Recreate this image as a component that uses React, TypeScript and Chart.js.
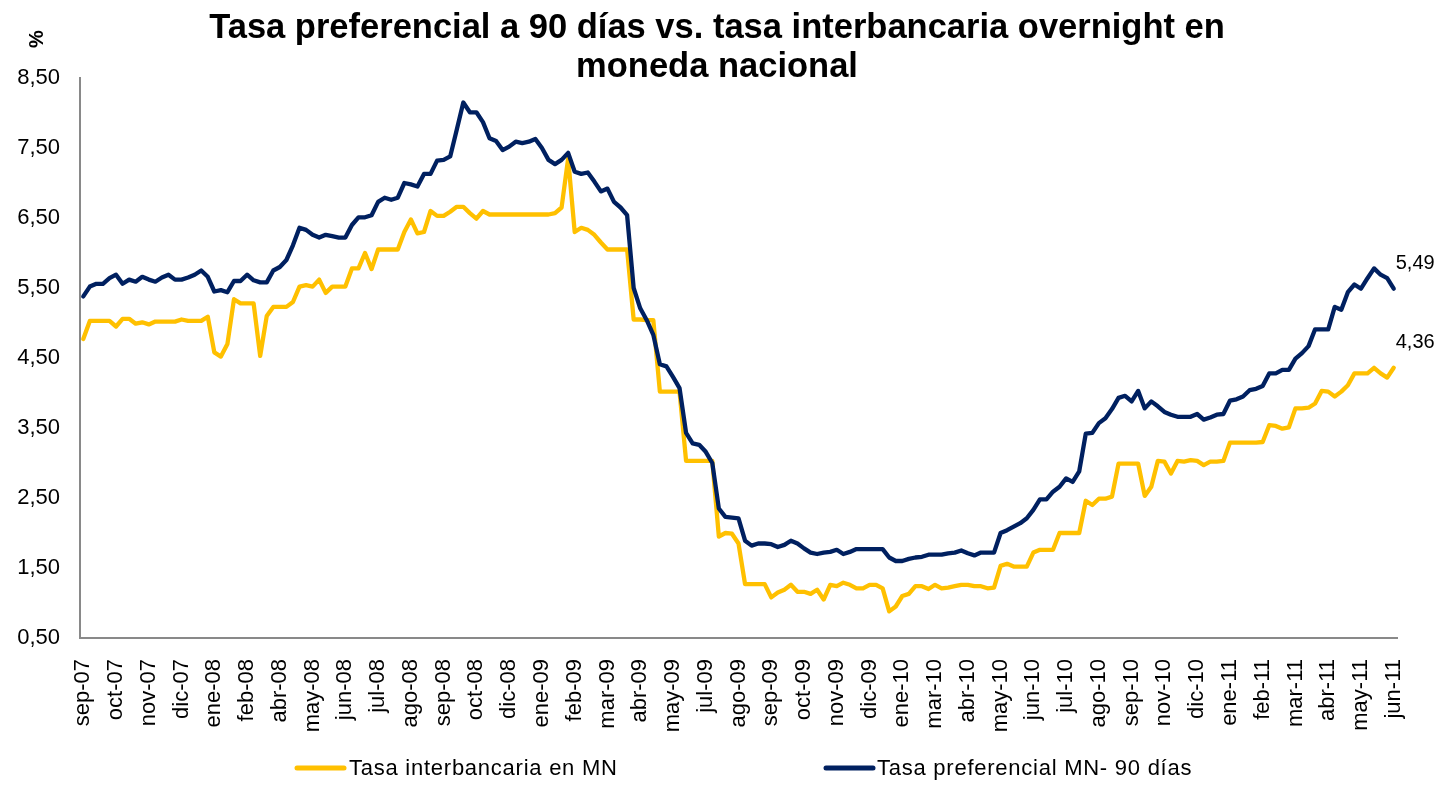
import React, { useEffect, useRef } from "react";
import { Chart, registerables } from "chart.js";

Chart.register(...registerables);

const FONT = "'Liberation Sans', Arial, Helvetica, sans-serif";

const titleLines = [
  "Tasa preferencial a 90 días vs. tasa interbancaria overnight en",
  "moneda nacional",
];
const yAxisTitle = "%";
const seriesNames = ["Tasa interbancaria en MN", "Tasa preferencial MN- 90 días"];
const seriesColors = ["#FFC000", "#002060"];

// one tick label every 5 weekly observations
const tickLabels = [
  "sep-07", "oct-07", "nov-07", "dic-07", "ene-08", "feb-08", "abr-08", "may-08", "jun-08", "jul-08",
  "ago-08", "sep-08", "oct-08", "dic-08", "ene-09", "feb-09", "mar-09", "abr-09", "may-09", "jul-09",
  "ago-09", "sep-09", "oct-09", "nov-09", "dic-09", "ene-10", "mar-10", "abr-10", "may-10", "jun-10",
  "jul-10", "ago-10", "sep-10", "nov-10", "dic-10", "ene-11", "feb-11", "mar-11", "abr-11", "may-11",
  "jun-11",
];
const LABEL_EVERY = 5;

const tasaInterbancaria = [
  4.77, 5.03, 5.03, 5.03, 5.03, 4.95, 5.06, 5.06, 4.99, 5.01,
  4.98, 5.02, 5.02, 5.02, 5.02, 5.05, 5.03, 5.03, 5.03, 5.09,
  4.58, 4.52, 4.70, 5.34, 5.28, 5.28, 5.28, 4.53, 5.10, 5.23,
  5.23, 5.23, 5.30, 5.52, 5.54, 5.52, 5.62, 5.43, 5.52, 5.52,
  5.52, 5.78, 5.78, 6.00, 5.77, 6.05, 6.05, 6.05, 6.05, 6.30,
  6.48, 6.28, 6.30, 6.60, 6.53, 6.53, 6.59, 6.66, 6.66, 6.57,
  6.49, 6.60, 6.55, 6.55, 6.55, 6.55, 6.55, 6.55, 6.55, 6.55,
  6.55, 6.55, 6.57, 6.65, 7.35, 6.30, 6.36, 6.33, 6.26, 6.15,
  6.05, 6.05, 6.05, 6.05, 5.05, 5.05, 5.04, 5.04, 4.02, 4.02,
  4.02, 4.02, 3.03, 3.03, 3.03, 3.03, 3.03, 1.95, 2.00, 1.99,
  1.85, 1.27, 1.27, 1.27, 1.27, 1.08, 1.15, 1.19, 1.26, 1.16,
  1.16, 1.13, 1.19, 1.05, 1.26, 1.24, 1.29, 1.26, 1.21, 1.21,
  1.26, 1.26, 1.21, 0.88, 0.95, 1.10, 1.13, 1.24, 1.24, 1.20,
  1.26, 1.21, 1.22, 1.24, 1.26, 1.26, 1.24, 1.24, 1.21, 1.22,
  1.53, 1.56, 1.52, 1.52, 1.52, 1.72, 1.76, 1.76, 1.76, 2.00,
  2.00, 2.00, 2.00, 2.46, 2.40, 2.49, 2.49, 2.52, 2.99, 2.99,
  2.99, 2.99, 2.53, 2.66, 3.03, 3.02, 2.85, 3.03, 3.02, 3.04,
  3.03, 2.97, 3.02, 3.02, 3.03, 3.29, 3.29, 3.29, 3.29, 3.29,
  3.30, 3.54, 3.53, 3.49, 3.51, 3.78, 3.78, 3.79, 3.85, 4.03,
  4.02, 3.95, 4.02, 4.11, 4.28, 4.28, 4.28, 4.36, 4.28, 4.22,
  4.36,
];

const tasaPreferencial = [
  5.38, 5.52, 5.56, 5.56, 5.64, 5.69, 5.56, 5.62, 5.59, 5.66,
  5.62, 5.59, 5.65, 5.69, 5.62, 5.62, 5.65, 5.69, 5.75, 5.66,
  5.45, 5.47, 5.44, 5.60, 5.60, 5.69, 5.61, 5.58, 5.58, 5.75,
  5.80, 5.90, 6.11, 6.36, 6.33, 6.26, 6.22, 6.26, 6.24, 6.22,
  6.22, 6.40, 6.51, 6.51, 6.54, 6.73, 6.79, 6.76, 6.79, 7.00,
  6.98, 6.95, 7.13, 7.13, 7.32, 7.33, 7.38, 7.76, 8.15, 8.01,
  8.01, 7.87, 7.64, 7.60, 7.47, 7.52, 7.59, 7.57, 7.59, 7.63,
  7.50, 7.33, 7.27, 7.33, 7.43, 7.16, 7.13, 7.15, 7.02, 6.88,
  6.92, 6.73, 6.65, 6.54, 5.50, 5.21, 5.04, 4.83, 4.41, 4.38,
  4.23, 4.07, 3.43, 3.28, 3.26, 3.16, 3.00, 2.35, 2.23, 2.22,
  2.21, 1.89, 1.82, 1.85, 1.85, 1.84, 1.80, 1.83, 1.89, 1.85,
  1.78, 1.72, 1.70, 1.72, 1.73, 1.76, 1.70, 1.73, 1.77, 1.77,
  1.77, 1.77, 1.77, 1.65, 1.60, 1.60, 1.63, 1.65, 1.66, 1.69,
  1.69, 1.69, 1.71, 1.72, 1.75, 1.71, 1.68, 1.72, 1.72, 1.72,
  2.00, 2.04, 2.09, 2.14, 2.21, 2.33, 2.48, 2.48, 2.59, 2.66,
  2.78, 2.73, 2.88, 3.42, 3.43, 3.57, 3.64, 3.77, 3.93, 3.96,
  3.88, 4.03, 3.78, 3.88, 3.81, 3.73, 3.69, 3.66, 3.66, 3.66,
  3.70, 3.62, 3.65, 3.69, 3.70, 3.89, 3.91, 3.95, 4.04, 4.06,
  4.10, 4.28, 4.28, 4.33, 4.33, 4.49, 4.57, 4.67, 4.91, 4.91,
  4.91, 5.23, 5.19, 5.44, 5.55, 5.49, 5.64, 5.78, 5.69, 5.64,
  5.49,
];

const Y_MIN = 0.5;
const Y_MAX = 8.5;
const Y_STEP = 1;

const categories = tasaPreferencial.map((_, i) =>
  i % LABEL_EVERY === 0 ? tickLabels[i / LABEL_EVERY] ?? "" : ""
);

const fmt = (v: number) => v.toFixed(2).replace(".", ",");

const overlayPlugin = {
  id: "overlay",
  afterDraw(chart: any) {
    const { ctx } = chart;
    const xs = chart.scales.x;
    const ys = chart.scales.y;
    ctx.save();
    ctx.fillStyle = "#000";

    // title
    ctx.font = `bold 34.5px ${FONT}`;
    ctx.textAlign = "center";
    ctx.textBaseline = "alphabetic";
    ctx.fillText(titleLines[0], 717, 38);
    ctx.fillText(titleLines[1], 717, 77);

    // rotated axis unit
    ctx.save();
    ctx.translate(37, 39);
    ctx.rotate(-Math.PI / 2);
    ctx.font = `bold 20px ${FONT}`;
    ctx.textAlign = "center";
    ctx.textBaseline = "middle";
    ctx.fillText(yAxisTitle, 0, 0);
    ctx.restore();

    // end-value labels
    ctx.font = `20px ${FONT}`;
    ctx.textAlign = "left";
    ctx.textBaseline = "middle";
    chart.data.datasets.forEach((ds: any) => {
      const last = ds.data.length - 1;
      const v = ds.data[last];
      const px = xs.getPixelForValue(last);
      const py = ys.getPixelForValue(v);
      ctx.fillText(fmt(v), px + 2, py - 25);
    });

    // legend
    const legendY = 768;
    const items = [
      { x0: 297, x1: 344, tx: 349 },
      { x0: 826, x1: 873, tx: 877 },
    ];
    ctx.font = `22px ${FONT}`;
    ctx.textBaseline = "middle";
    try {
      (ctx as any).letterSpacing = "0.75px";
    } catch (e) {
      /* ignore */
    }
    items.forEach((it, i) => {
      ctx.strokeStyle = seriesColors[i];
      ctx.lineWidth = 5;
      ctx.lineCap = "round";
      ctx.beginPath();
      ctx.moveTo(it.x0, legendY);
      ctx.lineTo(it.x1, legendY);
      ctx.stroke();
      ctx.fillStyle = "#000";
      ctx.fillText(seriesNames[i], it.tx, legendY + 1);
    });
    try {
      (ctx as any).letterSpacing = "0px";
    } catch (e) {
      /* ignore */
    }
    ctx.restore();
  },
};

export default function App() {
  const canvasRef = useRef<HTMLCanvasElement | null>(null);

  useEffect(() => {
    document.body.style.margin = "0";
    const canvas = canvasRef.current;
    if (!canvas) return;
    const chart = new Chart(canvas, {
      type: "line",
      data: {
        labels: categories,
        datasets: [
          {
            label: seriesNames[0],
            data: tasaInterbancaria,
            borderColor: seriesColors[0],
            backgroundColor: seriesColors[0],
            borderWidth: 4.3,
            pointRadius: 0,
            tension: 0,
            borderJoinStyle: "round",
            borderCapStyle: "round",
            order: 1,
          },
          {
            label: seriesNames[1],
            data: tasaPreferencial,
            borderColor: seriesColors[1],
            backgroundColor: seriesColors[1],
            borderWidth: 4.3,
            pointRadius: 0,
            tension: 0,
            borderJoinStyle: "round",
            borderCapStyle: "round",
            order: 0,
          },
        ],
      },
      options: {
        responsive: false,
        animation: false,
        events: [],
        layout: { padding: { top: 78, right: 49, left: 0, bottom: 0 } },
        plugins: {
          legend: { display: false },
          title: { display: false },
          tooltip: { enabled: false },
        },
        scales: {
          x: {
            type: "category",
            offset: true,
            grid: { display: false, drawTicks: false },
            border: { display: true, color: "#898989", width: 2 },
            ticks: {
              autoSkip: false,
              maxRotation: 90,
              minRotation: 90,
              padding: 21,
              color: "#000",
              font: { family: FONT, size: 22 },
            },
            afterFit(scale: any) {
              scale.height = 147;
            },
          },
          y: {
            type: "linear",
            min: Y_MIN,
            max: Y_MAX,
            grid: { display: false, drawTicks: false },
            border: { display: true, color: "#898989", width: 2 },
            ticks: {
              stepSize: Y_STEP,
              padding: 20,
              color: "#000",
              font: { family: FONT, size: 22 },
              callback: (v: any) => fmt(Number(v)),
            },
            afterFit(scale: any) {
              scale.width = 80;
            },
          },
        },
      },
      plugins: [overlayPlugin],
    });
    return () => chart.destroy();
  }, []);

  return (
    <div style={{ width: 1446, height: 785, background: "#fff" }}>
      <canvas ref={canvasRef} width={1446} height={785} style={{ display: "block" }} />
    </div>
  );
}
